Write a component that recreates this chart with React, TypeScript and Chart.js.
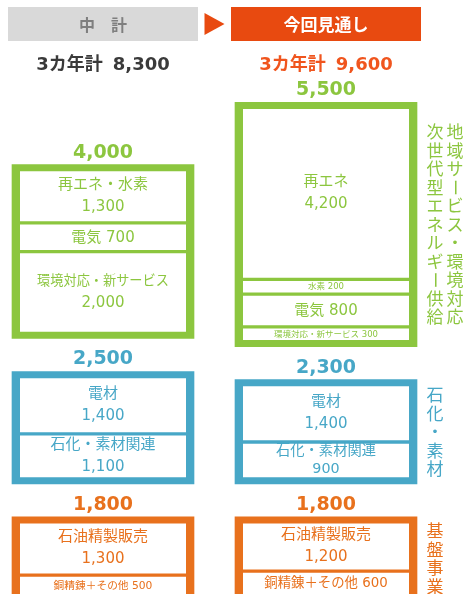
import React, { useEffect, useRef } from 'react';
import { Chart, registerables } from 'chart.js';

Chart.register(...registerables);

// ---------- data ----------
const CATEGORIES = ['中　計', '今回見通し'];
const PERIOD_LABEL = '3カ年計';
const PERIOD_TOTALS = [8300, 9600];

const BASE_NAME = ['基盤事業'];
const BASE_SEGMENTS = ['石油精製販売', '銅精錬＋その他'];
const BASE_PLAN = [1300, 500];
const BASE_OUTLOOK = [1200, 600];
const BASE_TOTALS = [1800, 1800];

const CHEM_NAME = ['石化・素材'];
const CHEM_SEGMENTS = ['電材', '石化・素材関連'];
const CHEM_PLAN = [1400, 1100];
const CHEM_OUTLOOK = [1400, 900];
const CHEM_TOTALS = [2500, 2300];

const ENERGY_NAME = ['地域サービス・環境対応', '次世代型エネルギー供給'];
const ENERGY_SEGMENTS_PLAN = ['再エネ・水素', '電気', '環境対応・新サービス'];
const ENERGY_PLAN = [1300, 700, 2000];
const ENERGY_SEGMENTS_OUTLOOK = ['再エネ', '水素', '電気', '環境対応・新サービス'];
const ENERGY_OUTLOOK = [4200, 200, 800, 300];
const ENERGY_TOTALS = [4000, 5500];

// ---------- style ----------
const W = 467;
const H = 594;
const GREEN = '#8cc63f';
const BLUE = '#47a7c7';
const ORANGE = '#e8711d';
const HEADER_GRAY = '#d9d9d9';
const HEADER_GRAY_TEXT = '#7f7f7f';
const HEADER_ORANGE = '#e84a10';
const TOTAL_DARK = '#3a3a3a';
const TOTAL_ORANGE = '#f0551e';

const Y_MIN = 40;
const Y_MAX = 14540;
const K = H / (Y_MAX - Y_MIN);
const OUTER_PAD_PX = 5;
const GAP_PX = 33;
const SEG_BORDER_PX = 2;
const OUTER_PAD_U = OUTER_PAD_PX / K;
const GROUP_GAP_U = (GAP_PX + 2 * OUTER_PAD_PX) / K;
const MIN_SEG_U = 360;
const GROUP_BAR_W = 182;
const SEG_BAR_W = 166;

const NUM_FONT = '"DejaVu Sans", "Noto Sans CJK JP", sans-serif';
const CJK_FONT = '"Noto Sans CJK JP", sans-serif';

const GROUP_DEFS = [
  { color: ORANGE, side: BASE_NAME, totals: BASE_TOTALS, labels: [BASE_SEGMENTS, BASE_SEGMENTS], values: [BASE_PLAN, BASE_OUTLOOK] },
  { color: BLUE, side: CHEM_NAME, totals: CHEM_TOTALS, labels: [CHEM_SEGMENTS, CHEM_SEGMENTS], values: [CHEM_PLAN, CHEM_OUTLOOK] },
  { color: GREEN, side: ENERGY_NAME, totals: ENERGY_TOTALS, labels: [ENERGY_SEGMENTS_PLAN, ENERGY_SEGMENTS_OUTLOOK], values: [ENERGY_PLAN, ENERGY_OUTLOOK] },
];

const fmt = (v: number) => v.toLocaleString('en-US');

type Extra = { kind: 'seg' | 'group'; color: string; side?: string[]; info: any[] };

function buildDatasets() {
  const datasets: any[] = [];
  const extras: Extra[] = [];
  const colBase = CATEGORIES.map(() => 0);
  GROUP_DEFS.forEach((g) => {
    const maxSlots = Math.max(...g.values.map((v) => v.length));
    const groupData: any[] = [];
    const groupInfo: any[] = [];
    const slotData: any[][] = Array.from({ length: maxSlots }, () => CATEGORIES.map(() => null));
    const slotInfo: any[][] = Array.from({ length: maxSlots }, () => CATEGORIES.map(() => null));
    CATEGORIES.forEach((_, c) => {
      const vals = g.values[c];
      const disp = vals.map((v) => Math.max(v, MIN_SEG_U));
      const sum = disp.reduce((a, b) => a + b, 0);
      const base = colBase[c];
      groupData.push([base - OUTER_PAD_U, base + sum + OUTER_PAD_U]);
      groupInfo.push({ total: g.totals[c] });
      let top = base + sum;
      disp.forEach((d, s) => {
        slotData[s][c] = [top - d, top];
        slotInfo[s][c] = { label: g.labels[c][s], value: vals[s] };
        top -= d;
      });
      colBase[c] = base + sum + GROUP_GAP_U;
    });
    slotData.forEach((data, s) => {
      datasets.push({
        data,
        backgroundColor: '#ffffff',
        borderColor: g.color,
        borderWidth: { top: SEG_BORDER_PX, bottom: SEG_BORDER_PX, left: 0, right: 0 },
        borderSkipped: false,
        maxBarThickness: SEG_BAR_W,
        barPercentage: 1,
        categoryPercentage: 1,
        grouped: false,
        clip: false,
        order: 0,
      });
      extras.push({ kind: 'seg', color: g.color, info: slotInfo[s] });
    });
    datasets.push({
      data: groupData,
      backgroundColor: g.color,
      borderWidth: 0,
      maxBarThickness: GROUP_BAR_W,
      barPercentage: 1,
      categoryPercentage: 1,
      grouped: false,
      clip: false,
      order: 1,
    });
    extras.push({ kind: 'group', color: g.color, side: g.side, info: groupInfo });
  });
  return { datasets, extras };
}

function drawSegText(ctx: CanvasRenderingContext2D, label: string, value: number, cx: number, top: number, bottom: number, width: number, color: string) {
  const iTop = top + SEG_BORDER_PX;
  const iBot = bottom - SEG_BORDER_PX;
  const h = iBot - iTop;
  const cy = (iTop + iBot) / 2;
  const maxW = width - 34;
  const num = fmt(value);
  ctx.fillStyle = color;
  ctx.textAlign = 'center';
  ctx.textBaseline = 'middle';
  if (h >= 32) {
    let fsN = Math.min(15, h / 2.3);
    let fsL = fsN;
    ctx.font = `${fsL}px ${NUM_FONT}`;
    const w = ctx.measureText(label).width;
    if (w > maxW) fsL = (fsL * maxW) / w;
    const gap = Math.min((fsL + fsN) / 2 + 7, h * 0.55);
    ctx.font = `${fsL}px ${NUM_FONT}`;
    ctx.fillText(label, cx, cy - gap / 2);
    ctx.font = `${fsN}px ${NUM_FONT}`;
    ctx.fillText(num, cx, cy + gap / 2);
  } else {
    const text = `${label} ${num}`;
    let fs = Math.max(8.5, Math.min(15, h * 0.65));
    ctx.font = `${fs}px ${NUM_FONT}`;
    const w = ctx.measureText(text).width;
    if (w > maxW) fs = (fs * maxW) / w;
    ctx.font = `${fs}px ${NUM_FONT}`;
    ctx.fillText(text, cx, cy + 0.5);
  }
}

function drawVertical(ctx: CanvasRenderingContext2D, text: string, x: number, cy: number, step: number) {
  const chars = Array.from(text);
  const start = cy - (chars.length * step) / 2 + step / 2;
  chars.forEach((ch, i) => {
    const y = start + i * step;
    if (ch === 'ー') {
      ctx.save();
      ctx.translate(x, y);
      ctx.rotate(Math.PI / 2);
      ctx.fillText(ch, 0, 0);
      ctx.restore();
    } else {
      ctx.fillText(ch, x, y);
    }
  });
}

export default function App() {
  const ref = useRef<HTMLCanvasElement>(null);
  useEffect(() => {
    const canvas = ref.current!;
    const { datasets, extras } = buildDatasets();
    const textPlugin = {
      id: 'boxText',
      afterDatasetsDraw(chart: any) {
        const ctx: CanvasRenderingContext2D = chart.ctx;
        ctx.save();
        extras.forEach((ex, di) => {
          const meta = chart.getDatasetMeta(di);
          meta.data.forEach((el: any, c: number) => {
            const info = ex.info[c];
            if (!info) return;
            const { x, y, base, width } = el.getProps(['x', 'y', 'base', 'width'], true);
            const top = Math.min(y, base);
            const bottom = Math.max(y, base);
            if (ex.kind === 'seg') {
              drawSegText(ctx, info.label, info.value, x, top, bottom, width, ex.color);
            } else {
              ctx.fillStyle = ex.color;
              ctx.textAlign = 'center';
              ctx.textBaseline = 'middle';
              ctx.font = `bold 19px ${NUM_FONT}`;
              ctx.fillText(fmt(info.total), x, top - 12);
              if (c === CATEGORIES.length - 1 && ex.side) {
                const n = ex.side.length;
                ctx.font = `17px ${CJK_FONT}`;
                ex.side.forEach((name, k) => {
                  const sx = x + width / 2 + 18 + (n - 1 - k) * 20;
                  drawVertical(ctx, name, sx, (top + bottom) / 2, 18.5);
                });
              }
            }
          });
        });
        // headers
        const xs = chart.scales.x;
        const centers = CATEGORIES.map((_, c) => xs.getPixelForValue(c));
        const hw = GROUP_BAR_W / 2 + 4;
        CATEGORIES.forEach((cat, c) => {
          const cx = centers[c];
          const last = c === CATEGORIES.length - 1;
          ctx.fillStyle = last ? HEADER_ORANGE : HEADER_GRAY;
          ctx.fillRect(cx - hw, 7, hw * 2, 34);
          ctx.fillStyle = last ? '#ffffff' : HEADER_GRAY_TEXT;
          ctx.font = `bold ${last ? 17 : 16}px ${CJK_FONT}`;
          ctx.textAlign = 'center';
          ctx.textBaseline = 'middle';
          ctx.fillText(cat, cx, 25);
          // period total
          const color = last ? TOTAL_ORANGE : TOTAL_DARK;
          ctx.fillStyle = color;
          ctx.font = `bold 18px ${NUM_FONT}`;
          const num = fmt(PERIOD_TOTALS[c]);
          const wl = ctx.measureText(PERIOD_LABEL).width;
          const wn = ctx.measureText(num).width;
          const gap = 10;
          const sx = cx - (wl + gap + wn) / 2;
          ctx.textAlign = 'left';
          ctx.fillText(PERIOD_LABEL, sx, 65);
          ctx.fillText(num, sx + wl + gap, 65);
        });
        // arrow between headers
        const ax = (centers[0] + hw + centers[1] - hw) / 2;
        ctx.fillStyle = HEADER_ORANGE;
        ctx.beginPath();
        ctx.moveTo(ax - 10, 13);
        ctx.lineTo(ax + 10, 24);
        ctx.lineTo(ax - 10, 35);
        ctx.closePath();
        ctx.fill();
        ctx.restore();
      },
    };
    const chart = new Chart(canvas, {
      type: 'bar',
      data: { labels: CATEGORIES, datasets },
      options: {
        animation: false,
        responsive: false,
        maintainAspectRatio: false,
        devicePixelRatio: 1,
        layout: { padding: { left: 103, right: 141, top: 0, bottom: 0 } },
        scales: {
          x: { type: 'category', offset: false, display: false },
          y: { type: 'linear', min: Y_MIN, max: Y_MAX, display: false },
        },
        plugins: { legend: { display: false }, tooltip: { enabled: false } },
      } as any,
      plugins: [textPlugin],
    });
    return () => chart.destroy();
  }, []);
  return (
    <div style={{ position: 'fixed', left: 0, top: 0, width: W, height: H, background: '#ffffff' }}>
      <canvas ref={ref} width={W} height={H} style={{ display: 'block', width: W, height: H }} />
    </div>
  );
}
